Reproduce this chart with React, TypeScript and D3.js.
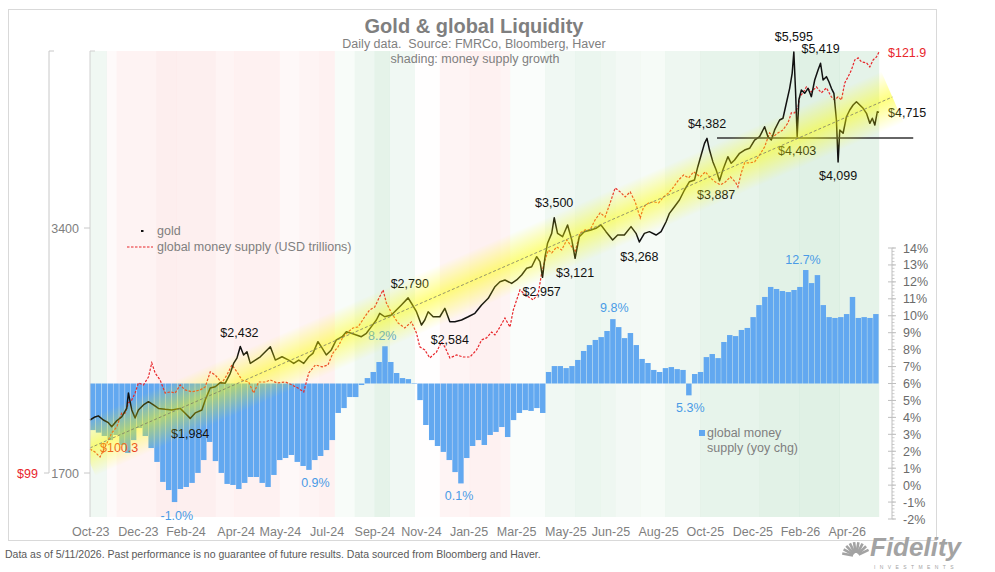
import * as d3 from 'd3'

// gold, daily close (USD/oz)
const gold: [string, number][] = [
  ['2023-10-09', 1975], ['2023-10-15', 1992], ['2023-10-19', 1998], ['2023-10-25', 1975], ['2023-10-31', 1960],
  ['2023-11-04', 1938], ['2023-11-10', 1971], ['2023-11-16', 1993], ['2023-11-22', 2041], ['2023-11-24', 2132],
  ['2023-11-28', 2032], ['2023-12-02', 1986], ['2023-12-06', 2032], ['2023-12-12', 2061], ['2023-12-18', 2080],
  ['2023-12-24', 2061], ['2023-12-30', 2041], ['2024-01-07', 2036], ['2024-01-15', 2032], ['2024-01-25', 2041],
  ['2024-01-31', 2013], ['2024-02-06', 1984], ['2024-02-12', 2015], ['2024-02-20', 2032], ['2024-02-24', 2090],
  ['2024-03-01', 2162], ['2024-03-07', 2170], ['2024-03-13', 2195], ['2024-03-19', 2192], ['2024-03-25', 2254],
  ['2024-03-29', 2318], ['2024-04-02', 2353], ['2024-04-06', 2432], ['2024-04-10', 2374], ['2024-04-14', 2396],
  ['2024-04-18', 2318], ['2024-04-24', 2340], ['2024-04-30', 2362], ['2024-05-06', 2396], ['2024-05-12', 2430],
  ['2024-05-18', 2340], ['2024-05-26', 2362], ['2024-06-03', 2340], ['2024-06-09', 2318], ['2024-06-15', 2340],
  ['2024-06-21', 2318], ['2024-06-27', 2362], ['2024-07-02', 2385], ['2024-07-08', 2465], ['2024-07-12', 2430],
  ['2024-07-18', 2374], ['2024-07-24', 2408], ['2024-07-30', 2477], ['2024-08-06', 2500], ['2024-08-11', 2535],
  ['2024-08-17', 2524], ['2024-08-23', 2512], ['2024-08-29', 2500], ['2024-09-04', 2524], ['2024-09-10', 2572],
  ['2024-09-16', 2621], ['2024-09-20', 2671], ['2024-09-26', 2645], ['2024-10-04', 2658], ['2024-10-10', 2696],
  ['2024-10-16', 2735], ['2024-10-24', 2790], ['2024-10-28', 2748], ['2024-11-03', 2683], ['2024-11-09', 2584],
  ['2024-11-13', 2621], ['2024-11-17', 2683], ['2024-11-23', 2645], ['2024-12-01', 2645], ['2024-12-07', 2709],
  ['2024-12-13', 2608], ['2024-12-19', 2608], ['2024-12-27', 2621], ['2025-01-04', 2645], ['2025-01-12', 2671],
  ['2025-01-20', 2735], ['2025-01-28', 2787], ['2025-02-05', 2880], ['2025-02-11', 2921], ['2025-02-17', 2935],
  ['2025-02-25', 2907], ['2025-03-03', 2935], ['2025-03-09', 2977], ['2025-03-15', 3034], ['2025-03-21', 3047],
  ['2025-03-27', 3135], ['2025-03-31', 3091], ['2025-04-03', 2957], ['2025-04-06', 3135], ['2025-04-09', 3256],
  ['2025-04-14', 3349], ['2025-04-17', 3500], ['2025-04-21', 3349], ['2025-04-27', 3317], ['2025-05-03', 3429],
  ['2025-05-08', 3287], ['2025-05-12', 3121], ['2025-05-17', 3317], ['2025-05-23', 3365], ['2025-05-31', 3381],
  ['2025-06-06', 3397], ['2025-06-12', 3429], ['2025-06-18', 3365], ['2025-06-26', 3287], ['2025-07-02', 3333],
  ['2025-07-10', 3333], ['2025-07-18', 3413], ['2025-07-24', 3349], ['2025-07-28', 3268], ['2025-08-03', 3349],
  ['2025-08-09', 3365], ['2025-08-17', 3333], ['2025-08-23', 3365], ['2025-08-29', 3461], ['2025-09-02', 3544],
  ['2025-09-08', 3611], ['2025-09-14', 3680], ['2025-09-20', 3786], ['2025-09-26', 3876], ['2025-10-02', 3895],
  ['2025-10-06', 4044], ['2025-10-10', 4180], ['2025-10-14', 4320], ['2025-10-17', 4382], ['2025-10-20', 4239],
  ['2025-10-24', 4102], ['2025-10-28', 4006], ['2025-11-01', 3887], ['2025-11-05', 4006], ['2025-11-11', 4160],
  ['2025-11-15', 4083], ['2025-11-19', 4121], ['2025-11-25', 4200], ['2025-12-01', 4239], ['2025-12-07', 4260],
  ['2025-12-13', 4361], ['2025-12-19', 4402], ['2025-12-25', 4528], ['2025-12-29', 4402], ['2026-01-02', 4361],
  ['2026-01-06', 4487], ['2026-01-12', 4615], ['2026-01-16', 4638], ['2026-01-20', 4839], ['2026-01-24', 5048],
  ['2026-01-27', 5267], ['2026-01-29', 5595], ['2026-01-31', 5024], ['2026-02-02', 4403], ['2026-02-04', 4884],
  ['2026-02-07', 5024], ['2026-02-11', 4977], ['2026-02-15', 5048], ['2026-02-19', 4930], ['2026-02-23', 5168],
  ['2026-02-27', 5317], ['2026-03-02', 5419], ['2026-03-05', 5168], ['2026-03-09', 5217], ['2026-03-12', 5143],
  ['2026-03-15', 5048], ['2026-03-18', 4977], ['2026-03-21', 4615], ['2026-03-23', 4099], ['2026-03-25', 4487],
  ['2026-03-29', 4445], ['2026-04-02', 4658], ['2026-04-06', 4747], ['2026-04-10', 4815], ['2026-04-14', 4860],
  ['2026-04-18', 4815], ['2026-04-22', 4770], ['2026-04-26', 4703], ['2026-04-30', 4572], ['2026-05-03', 4638],
  ['2026-05-06', 4550], ['2026-05-09', 4725], ['2026-05-11', 4715],
]

// global money supply, USD trillions
const moneySupply: [string, number][] = [
  ['2023-10-09', 100.3], ['2023-10-15', 100.14], ['2023-10-21', 99.87], ['2023-10-27', 100.41], ['2023-11-04', 101.18],
  ['2023-11-10', 101.5], ['2023-11-16', 102.26], ['2023-11-20', 102.26], ['2023-11-24', 102.81], ['2023-11-28', 102.97],
  ['2023-12-02', 103.35], ['2023-12-06', 103.9], ['2023-12-12', 103.79], ['2023-12-18', 104.22], ['2023-12-22', 104.99],
  ['2023-12-26', 104.44], ['2024-01-01', 104.06], ['2024-01-07', 103.35], ['2024-01-13', 103.41], ['2024-01-19', 103.35],
  ['2024-01-25', 103.79], ['2024-01-31', 103.52], ['2024-02-08', 103.41], ['2024-02-18', 103.52], ['2024-02-24', 103.68],
  ['2024-03-01', 104.5], ['2024-03-07', 104.33], ['2024-03-15', 103.9], ['2024-03-21', 104.33], ['2024-03-27', 104.88],
  ['2024-04-02', 104.5], ['2024-04-08', 104.06], ['2024-04-16', 103.95], ['2024-04-22', 103.35], ['2024-04-28', 103.95],
  ['2024-05-06', 103.95], ['2024-05-12', 104.06], ['2024-05-20', 103.9], ['2024-05-30', 103.95], ['2024-06-07', 103.79],
  ['2024-06-14', 103.62], ['2024-06-21', 103.41], ['2024-06-27', 104.44], ['2024-07-05', 104.88], ['2024-07-13', 104.77],
  ['2024-07-20', 104.88], ['2024-07-26', 105.53], ['2024-08-01', 105.86], ['2024-08-07', 106.4], ['2024-08-13', 106.67],
  ['2024-08-19', 106.89], ['2024-08-25', 106.94], ['2024-09-02', 107.49], ['2024-09-08', 107.87], ['2024-09-14', 108.03],
  ['2024-09-18', 108.41], ['2024-09-24', 108.96], ['2024-09-28', 108.25], ['2024-10-04', 107.71], ['2024-10-12', 107.16],
  ['2024-10-20', 106.89], ['2024-10-28', 107.22], ['2024-11-03', 106.62], ['2024-11-07', 105.86], ['2024-11-13', 105.69],
  ['2024-11-19', 105.26], ['2024-11-27', 105.58], ['2024-12-03', 106.13], ['2024-12-07', 105.86], ['2024-12-13', 105.26],
  ['2024-12-21', 105.42], ['2024-12-29', 105.31], ['2025-01-06', 105.31], ['2025-01-14', 105.69], ['2025-01-20', 106.24],
  ['2025-01-26', 106.35], ['2025-02-01', 106.67], ['2025-02-05', 106.51], ['2025-02-11', 106.94], ['2025-02-17', 107.43],
  ['2025-02-23', 106.94], ['2025-02-27', 107.87], ['2025-03-03', 108.41], ['2025-03-07', 108.96], ['2025-03-11', 108.79],
  ['2025-03-17', 108.58], ['2025-03-23', 108.41], ['2025-03-29', 108.79], ['2025-04-02', 109.88], ['2025-04-06', 110.59],
  ['2025-04-10', 111.13], ['2025-04-14', 110.97], ['2025-04-20', 111.3], ['2025-04-26', 111.13], ['2025-05-02', 111.68],
  ['2025-05-08', 111.3], ['2025-05-12', 111.02], ['2025-05-18', 112.06], ['2025-05-24', 112.22], ['2025-05-30', 112.22],
  ['2025-06-05', 112.77], ['2025-06-11', 113.15], ['2025-06-17', 112.93], ['2025-06-23', 113.69], ['2025-06-29', 114.51],
  ['2025-07-05', 114.29], ['2025-07-11', 114.02], ['2025-07-17', 114.29], ['2025-07-23', 113.75], ['2025-07-29', 112.87],
  ['2025-08-02', 113.47], ['2025-08-08', 113.69], ['2025-08-14', 113.75], ['2025-08-20', 113.69], ['2025-08-26', 114.02],
  ['2025-09-01', 114.23], ['2025-09-07', 114.56], ['2025-09-13', 114.94], ['2025-09-19', 115.21], ['2025-09-25', 115.05],
  ['2025-10-01', 115.38], ['2025-10-09', 115.11], ['2025-10-15', 115.38], ['2025-10-21', 115.05], ['2025-10-27', 114.83],
  ['2025-11-02', 114.67], ['2025-11-08', 114.83], ['2025-11-14', 115.11], ['2025-11-20', 114.83], ['2025-11-23', 114.56],
  ['2025-11-27', 115.32], ['2025-12-01', 115.87], ['2025-12-07', 115.87], ['2025-12-13', 115.92], ['2025-12-19', 116.3],
  ['2025-12-25', 116.74], ['2025-12-31', 117.5], ['2026-01-04', 117.28], ['2026-01-10', 117.5], ['2026-01-16', 117.66],
  ['2026-01-22', 118.04], ['2026-01-26', 118.59], ['2026-01-30', 118.59], ['2026-02-03', 118.91], ['2026-02-05', 119.46],
  ['2026-02-09', 119.68], ['2026-02-13', 120.0], ['2026-02-19', 119.73], ['2026-02-25', 120.0], ['2026-03-03', 119.68],
  ['2026-03-09', 119.95], ['2026-03-15', 119.46], ['2026-03-19', 119.29], ['2026-03-23', 119.46], ['2026-03-27', 119.29],
  ['2026-03-31', 120.22], ['2026-04-04', 120.55], ['2026-04-08', 120.93], ['2026-04-12', 121.47], ['2026-04-16', 121.58],
  ['2026-04-20', 121.36], ['2026-04-26', 121.31], ['2026-04-30', 121.09], ['2026-05-04', 121.47], ['2026-05-08', 121.63],
  ['2026-05-11', 121.9],
]

// money supply yoy % change, one value per week from yoyStart
const yoyStart = '2023-10-09'
const yoyWeekly: number[] = [
  3.25, 3.1, 2.9, 2.66, 2.96, 2.37, 1.9, 2.66, 3.37, 2.9, 2.19, 1.37, 0.19, -0.29, -1.0, -0.23, -0.11, 0.13, 0.72, 1.48,
  2.55, 1.42, 0.72, 0.07, 0.01, -0.23, 0.13, 0.48, 0.48, 0.13, -0.11, 0.6, 1.48, 1.6, 1.78, 1.37, 1.13, 0.9, 1.48, 1.72,
  2.07, 2.66, 4.26, 4.55, 5.2, 5.2, 5.91, 6.32, 6.68, 7.27, 8.2, 7.27, 6.62, 6.32, 6.26, 6.03, 5.02, 3.55, 2.66, 2.31,
  1.96, 1.48, 0.77, 0.1, 1.6, 2.31, 2.66, 2.37, 2.96, 3.14, 3.43, 2.84, 3.84, 4.26, 4.43, 4.38, 4.55, 4.26, 6.68, 7.03,
  7.03, 6.91, 7.03, 7.39, 7.92, 8.27, 8.57, 8.74, 9.1, 9.8, 9.33, 8.68, 8.98, 8.27, 7.45, 7.21, 6.8, 6.68, 6.91, 6.97,
  6.85, 6.8, 5.3, 6.56, 6.68, 7.56, 7.74, 7.5, 8.45, 8.86, 8.8, 9.16, 9.28, 9.92, 10.63, 11.11, 11.7, 11.58, 11.46, 11.4,
  11.52, 11.7, 12.7, 11.93, 12.4, 10.63, 9.92, 9.87, 9.92, 10.1, 11.11, 9.87, 9.92, 9.87, 10.1,
]
const yoyBase = 6

// background shading: start of each band and growth signal (+ green / - red)
const shading: [string, number][] = [
  ['2023-10-09', 0.3], ['2023-10-29', -0.15], ['2023-11-10', -0.35], ['2023-12-28', -0.5], ['2024-01-21', -0.45],
  ['2024-03-07', -0.3], ['2024-03-30', -0.4], ['2024-05-23', -0.2], ['2024-06-16', -0.3], ['2024-07-10', -0.4],
  ['2024-07-28', 0.15], ['2024-08-21', 0.35], ['2024-09-14', 0.55], ['2024-10-02', 0.3], ['2024-11-01', -0.05],
  ['2024-12-01', -0.3], ['2025-01-06', -0.4], ['2025-02-11', -0.3], ['2025-02-23', 0.1], ['2025-04-06', 0.3],
  ['2025-05-12', 0.4], ['2025-06-11', 0.35], ['2025-06-29', 0.25], ['2025-07-29', 0.2], ['2025-08-28', 0.35],
  ['2025-10-09', 0.5], ['2025-12-19', 0.6], ['2026-02-05', 0.65], ['2026-03-25', 0.55],
]

const xTickDates = [
  '2023-10-10', '2023-12-06', '2024-02-01', '2024-04-01', '2024-05-24', '2024-07-19', '2024-09-14', '2024-11-09',
  '2025-01-05', '2025-03-03', '2025-05-01', '2025-06-24', '2025-08-20', '2025-10-15', '2025-12-11', '2026-02-06',
  '2026-04-03',
]
const goldTicks = [1700, 3400]
const moneyTicks = [99]
const yoyTicks = d3.range(-2, 15)

const trend: [string, number][] = [['2023-10-09', 1825], ['2026-05-27', 4925]]
const support: [string, number][] = [['2025-10-29', 4386], ['2026-06-21', 4386]]

type Note = { text: string; date: string; value: number; axis: 'gold' | 'money' | 'yoy'; dy: number; dx?: number; anchor?: string }
const notes: Note[] = [
  { text: '$5,595', date: '2026-01-29', value: 5595, axis: 'gold', dy: -11 },
  { text: '$5,419', date: '2026-03-02', value: 5419, axis: 'gold', dy: -10 },
  { text: '$4,715', date: '2026-05-11', value: 4715, axis: 'gold', dy: 5, dx: 9, anchor: 'start' },
  { text: '$4,382', date: '2025-10-17', value: 4382, axis: 'gold', dy: -10 },
  { text: '$4,403', date: '2026-02-02', value: 4403, axis: 'gold', dy: 18 },
  { text: '$4,099', date: '2026-03-23', value: 4099, axis: 'gold', dy: 18 },
  { text: '$3,887', date: '2025-10-28', value: 3887, axis: 'gold', dy: 18 },
  { text: '$3,500', date: '2025-04-17', value: 3500, axis: 'gold', dy: -11 },
  { text: '$3,268', date: '2025-07-28', value: 3268, axis: 'gold', dy: 19 },
  { text: '$3,121', date: '2025-05-12', value: 3121, axis: 'gold', dy: 19 },
  { text: '$2,957', date: '2025-04-02', value: 2957, axis: 'gold', dy: 19 },
  { text: '$2,790', date: '2024-10-26', value: 2790, axis: 'gold', dy: -10 },
  { text: '$2,584', date: '2024-12-13', value: 2584, axis: 'gold', dy: 19 },
  { text: '$2,432', date: '2024-04-05', value: 2432, axis: 'gold', dy: -9 },
  { text: '$1,984', date: '2024-02-06', value: 1984, axis: 'gold', dy: 20 },
  { text: '$121.9', date: '2026-05-11', value: 121.9, axis: 'money', dy: 5, dx: 9, anchor: 'start' },
  { text: '$100.3', date: '2023-10-09', value: 100.3, axis: 'money', dy: 3, dx: 10, anchor: 'start' },
  { text: '-1.0%', date: '2024-01-21', value: -1.0, axis: 'yoy', dy: 18 },
  { text: '0.9%', date: '2024-07-05', value: 0.9, axis: 'yoy', dy: 17 },
  { text: '0.1%', date: '2024-12-24', value: 0.1, axis: 'yoy', dy: 17 },
  { text: '8.2%', date: '2024-09-23', value: 8.2, axis: 'yoy', dy: -6 },
  { text: '9.8%', date: '2025-06-28', value: 9.8, axis: 'yoy', dy: -7 },
  { text: '5.3%', date: '2025-09-27', value: 5.3, axis: 'yoy', dy: 17 },
  { text: '12.7%', date: '2026-02-09', value: 12.7, axis: 'yoy', dy: -6 },
]

const FONT = 'Arial, "Liberation Sans", sans-serif'
const GREY = '#7f7f7f'
const RED = '#e8262b'
const BLUE_BAR = '#62a8f0'
const BLUE_TXT = '#4a9be6'
const parse = (s: string) => d3.utcParse('%Y-%m-%d')(s) as Date

export default function App() {
  const width = 995
  const height = 572
  const left = 90, right = 879, top = 51, bottom = 517

  const x = d3.scaleUtc().domain([parse('2023-10-09'), parse('2026-05-11')]).range([left, right])
  const yGold = d3.scaleLog().base(2).domain([1700, 3400]).range([473, 228])
  const yMoney = d3.scaleLinear().domain([99, 121.9]).range([473, 52])
  const yYoy = d3.scaleLinear().domain([-2, 14]).range([519, 248])
  const yOf = { gold: yGold, money: yMoney, yoy: yYoy }

  const goldPath = d3.line<[string, number]>().x((d) => x(parse(d[0]))).y((d) => yGold(d[1]))(gold)
  const moneyPath = d3.line<[string, number]>().x((d) => x(parse(d[0]))).y((d) => yMoney(d[1]))(moneySupply)

  const t0 = parse(yoyStart)
  const bars = yoyWeekly.map((v, i) => {
    const x0 = x(d3.utcDay.offset(t0, 7 * i))
    const x1 = x(d3.utcDay.offset(t0, 7 * (i + 1)))
    const yb = yYoy(yoyBase)
    const yv = yYoy(v)
    return { x: x0, w: x1 - x0 - 0.4, y: Math.min(yb, yv), h: Math.abs(yv - yb) }
  })

  const bands = shading.map((s, i) => {
    const x0 = x(parse(s[0]))
    const x1 = i < shading.length - 1 ? x(parse(shading[i + 1][0])) : right
    const a = Math.abs(s[1])
    const fill = s[1] >= 0 ? `rgba(70,170,100,${0.26 * a})` : `rgba(235,70,70,${0.19 * a})`
    return { x: x0, w: x1 - x0, fill }
  })

  // trend glow band
  const p1 = [x(parse(trend[0][0])), yGold(trend[0][1])]
  const p2 = [x(parse(trend[1][0])), yGold(trend[1][1])]
  const ang = (Math.atan2(p2[1] - p1[1], p2[0] - p1[0]) * 180) / Math.PI
  const len = Math.hypot(p2[0] - p1[0], p2[1] - p1[1])

  const fmt = d3.utcFormat('%b-%y')

  return (
    <svg width={width} height={height} style={{ position: 'absolute', left: 0, top: 0, background: '#fff' }} fontFamily={FONT}>
      <defs>
        <linearGradient id="glow" x1="0" y1="0" x2="0" y2="1">
          <stop offset="0" stopColor="#ffff00" stopOpacity={0} />
          <stop offset="0.25" stopColor="#ffff00" stopOpacity={0.25} />
          <stop offset="0.5" stopColor="#ffff00" stopOpacity={0.5} />
          <stop offset="0.75" stopColor="#ffff00" stopOpacity={0.25} />
          <stop offset="1" stopColor="#ffff00" stopOpacity={0} />
        </linearGradient>
        <clipPath id="bandClip">
          <rect x={left} y={0} width={width - left} height={height} />
        </clipPath>
      </defs>

      <rect x={8.5} y={9.5} width={928} height={531} fill="#fff" stroke="#d9d9d9" />

      {/* shading */}
      {bands.map((b, i) => (
        <rect key={i} x={b.x} y={top} width={b.w + 0.2} height={bottom - top} fill={b.fill} />
      ))}

      {/* yoy bars */}
      {bars.map((b, i) => (
        <rect key={i} x={b.x} y={b.y} width={b.w} height={b.h} fill={BLUE_BAR} />
      ))}

      {/* money supply */}
      <path d={moneyPath ?? ''} fill="none" stroke={RED} strokeWidth={1.2} strokeDasharray="2.5 1.5" />
      {/* gold */}
      <path d={goldPath ?? ''} fill="none" stroke="#111" strokeWidth={1.5} strokeLinejoin="round" />
      {/* support level */}
      <line x1={x(parse(support[0][0]))} x2={x(parse(support[1][0]))} y1={yGold(support[0][1])} y2={yGold(support[1][1])} stroke="#333" strokeWidth={1.4} />

      {/* annotations */}
      {notes.map((n, i) => (
        <text
          key={i}
          x={x(parse(n.date)) + (n.dx ?? 0)}
          y={yOf[n.axis](n.value) + n.dy}
          textAnchor={n.anchor ?? 'middle'}
          fontSize={12.5}
          fill={n.axis === 'gold' ? '#111' : n.axis === 'money' ? RED : BLUE_TXT}
        >
          {n.text}
        </text>
      ))}

      {/* trend band and line */}
      <g clipPath="url(#bandClip)">
        <g transform={`translate(${p1[0]},${p1[1]}) rotate(${ang})`}>
          <rect x={-6} y={-28} width={len + 6} height={56} fill="url(#glow)" />
        </g>
        <line x1={p1[0]} y1={p1[1]} x2={p2[0]} y2={p2[1]} stroke="#7a7a6a" strokeWidth={0.8} strokeDasharray="3 2" />
      </g>

      {/* left money axis */}
      <line x1={49} x2={49} y1={top} y2={yMoney(99)} stroke="#c8c8c8" />
      <line x1={49} x2={54} y1={top} y2={top} stroke="#c8c8c8" />
      {moneyTicks.map((t) => (
        <g key={t}>
          <line x1={44} x2={49} y1={yMoney(t)} y2={yMoney(t)} stroke="#c8c8c8" />
          <text x={27.5} y={yMoney(t) + 4.5} textAnchor="middle" fontSize={12.5} fill={RED}>${t}</text>
        </g>
      ))}

      {/* left gold axis */}
      <line x1={left} x2={left} y1={top} y2={bottom} stroke="#d0d0d0" />
      <line x1={left} x2={left + 5} y1={top} y2={top} stroke="#d0d0d0" />
      {goldTicks.map((t) => (
        <g key={t}>
          <line x1={left - 6} x2={left} y1={yGold(t)} y2={yGold(t)} stroke="#c8c8c8" />
          <text x={79} y={yGold(t) + 4.5} textAnchor="end" fontSize={12.5} fill={GREY}>{t}</text>
        </g>
      ))}

      {/* right yoy axis */}
      <line x1={892} x2={892} y1={yYoy(14)} y2={yYoy(-2)} stroke="#bfbfbf" />
      {d3.range(-2, 14.001, 0.2).map((t, i) => (
        <line key={i} x1={892} x2={894.5} y1={yYoy(t)} y2={yYoy(t)} stroke="#bfbfbf" strokeWidth={0.8} />
      ))}
      {yoyTicks.map((t) => (
        <g key={t}>
          <line x1={888} x2={896} y1={yYoy(t)} y2={yYoy(t)} stroke="#bfbfbf" />
          <text x={903} y={yYoy(t) + 4.5} fontSize={12.5} fill="#6b6b6b">{t}%</text>
        </g>
      ))}

      {/* x axis labels */}
      {xTickDates.map((d) => (
        <text key={d} x={x(parse(d))} y={536} textAnchor="middle" fontSize={12.5} fill={GREY}>
          {fmt(parse(d))}
        </text>
      ))}

      {/* titles */}
      <text x={474} y={33} textAnchor="middle" fontSize={20} fontWeight="bold" fill={GREY}>Gold &amp; global Liquidity</text>
      <text x={474} y={48} textAnchor="middle" fontSize={12.5} fill={GREY} style={{ whiteSpace: 'pre' }}>
        {'Daily data.  Source: FMRCo, Bloomberg, Haver'}
      </text>
      <text x={475} y={63} textAnchor="middle" fontSize={12.5} fill={GREY}>shading: money supply growth</text>

      {/* legend: lines */}
      <rect x={141} y={230} width={2.5} height={2} fill="#111" />
      <text x={157} y={235} fontSize={12.5} fill={GREY}>gold</text>
      <line x1={127} x2={153} y1={247} y2={247} stroke={RED} strokeWidth={1.2} strokeDasharray="2.5 1.5" />
      <text x={157} y={251} fontSize={12.5} fill={GREY}>global money supply (USD trillions)</text>

      {/* legend: bars */}
      <rect x={699} y={430} width={6} height={6} fill={BLUE_BAR} />
      <text x={707} y={437} fontSize={12.5} fill={GREY}>global money</text>
      <text x={707} y={452} fontSize={12.5} fill={GREY}>supply (yoy chg)</text>

      {/* footer */}
      <text x={5} y={558} fontSize={10.5} fill="#595959">
        Data as of 5/11/2026. Past performance is no guarantee of future results. Data sourced from Bloomberg and Haver.
      </text>

      {/* logo */}
      <g fill="#a3a3a3">
        {d3.range(0, 9).map((k) => {
          const a = (-170 + k * 18) * (Math.PI / 180)
          return (
            <line
              key={k}
              x1={856 + Math.cos(a) * 3}
              y1={556 + Math.sin(a) * 3}
              x2={856 + Math.cos(a) * 14}
              y2={556 + Math.sin(a) * 14}
              stroke="#a3a3a3"
              strokeWidth={2.6}
            />
          )
        })}
        <text x={870} y={556} fontSize={26} fontWeight="bold" fontStyle="italic">Fidelity</text>
        <text x={874} y={569} fontSize={5} letterSpacing={4.4}>INVESTMENTS</text>
      </g>
    </svg>
  )
}
